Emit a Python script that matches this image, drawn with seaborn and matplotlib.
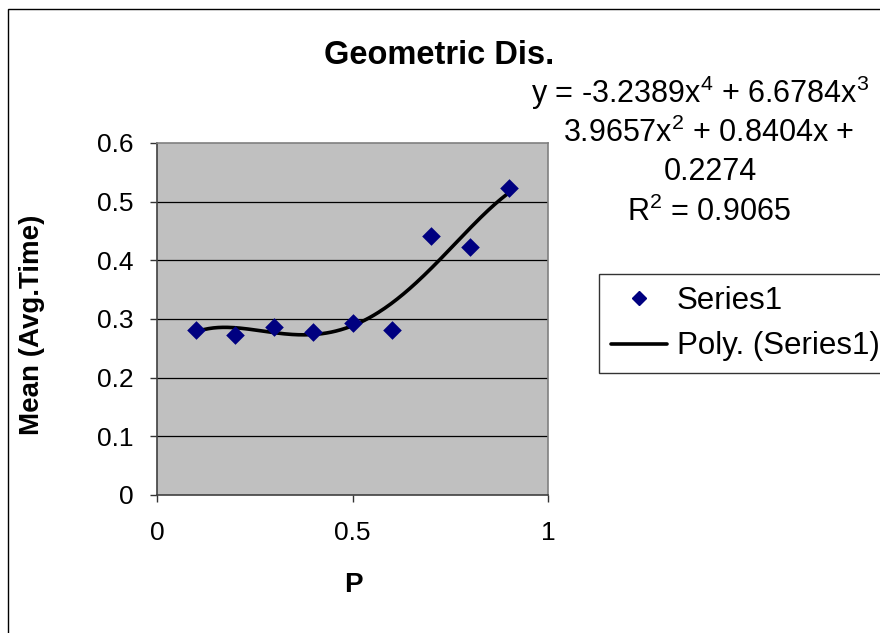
import numpy as np
import pandas as pd
import matplotlib
matplotlib.use("Agg")
import matplotlib.pyplot as plt
import matplotlib.patches as mpatches
from matplotlib.lines import Line2D
import seaborn as sns

# ---- data ----
p_values = [0.1, 0.2, 0.3, 0.4, 0.5, 0.6, 0.7, 0.8, 0.9]
mean_time = [0.282, 0.273, 0.286, 0.278, 0.294, 0.282, 0.441, 0.422, 0.524]
poly_coeffs = [-3.2389, 6.6784, -3.9657, 0.8404, 0.2274]  # highest power first
eq_lines = [r"y = -3.2389x$^{4}$ + 6.6784x$^{3}$",
            r"3.9657x$^{2}$ + 0.8404x +",
            "0.2274",
            r"R$^{2}$ = 0.9065"]
x_ticks = [0, 0.5, 1]
x_tick_labels = ["0", "0.5", "1"]
y_ticks = [0, 0.1, 0.2, 0.3, 0.4, 0.5, 0.6]
y_tick_labels = ["0", "0.1", "0.2", "0.3", "0.4", "0.5", "0.6"]
title = "Geometric Dis."
x_label = "P"
y_label = "Mean (Avg.Time)"
series_name = "Series1"
trend_name = "Poly. (Series1)"

sns.set_style("white")
plt.rcParams["font.family"] = ["Liberation Sans", "DejaVu Sans"]
plt.rcParams["mathtext.fontset"] = "custom"
plt.rcParams["mathtext.rm"] = "Liberation Sans"
plt.rcParams["mathtext.it"] = "Liberation Sans"
plt.rcParams["mathtext.default"] = "regular"
plt.rcParams["text.color"] = "black"
plt.rcParams["axes.labelcolor"] = "black"
plt.rcParams["xtick.color"] = "black"
plt.rcParams["ytick.color"] = "black"

W, H = 880, 633
fig = plt.figure(figsize=(W / 100, H / 100), dpi=100)
ax = fig.add_axes([157 / W, 1 - 495 / H, (548 - 157) / W, (495 - 143) / H])
ax.set_facecolor("#C0C0C0")

df = pd.DataFrame({"P": p_values, "Mean": mean_time})
xs = np.linspace(min(p_values), max(p_values), 200)
trend = pd.DataFrame({"P": xs, "Fit": np.polyval(poly_coeffs, xs)})

# gridlines
for yv in y_ticks[1:-1]:
    ax.axhline(yv, color="black", lw=0.9, zorder=1)

sns.lineplot(data=trend, x="P", y="Fit", ax=ax, color="black", lw=2.6,
             zorder=3, legend=False)
sns.scatterplot(data=df, x="P", y="Mean", ax=ax, marker="D", s=90,
                color="#000080", edgecolor="#000080", linewidth=0, zorder=4,
                legend=False)

ax.set_xlim(0, 1)
ax.set_ylim(0, 0.6)
ax.set_xticks(x_ticks)
ax.set_xticklabels(x_tick_labels)
ax.set_yticks(y_ticks)
ax.set_yticklabels(y_tick_labels)
ax.tick_params(axis="both", direction="out", length=5, width=1, color="#333333",
               labelsize=19, labelcolor="black")
ax.tick_params(axis="x", pad=14, bottom=True)
ax.tick_params(axis="y", pad=12, left=True)
for side, sp in ax.spines.items():
    sp.set_visible(True)
    sp.set_color("#808080")
    sp.set_linewidth(1.2)
ax.spines["left"].set_color("#404040")
ax.spines["bottom"].set_color("#404040")
ax.set_xlabel("")
ax.set_ylabel("")

# titles / labels
fig.text(439 / W, 1 - 55 / H, title, ha="center", va="center",
         fontsize=23.5, fontweight="bold", color="black")
fig.text(353 / W, 1 - 585 / H, x_label, ha="center", va="center",
         fontsize=20, fontweight="bold", color="black")
fig.text(32 / W, 1 - 325 / H, y_label, ha="center", va="center",
         fontsize=20, fontweight="bold", rotation=90, color="black")

# equation text
eq_pos = [(700, 93), (709, 133), (710, 172), (709, 212)]
for txt, (px, py) in zip(eq_lines, eq_pos):
    fig.text(px / W, 1 - py / H, txt, ha="center", va="center", fontsize=22,
             color="black")

# legend
handles = [Line2D([], [], marker="D", color="#000080", linestyle="none",
                  markersize=7),
           Line2D([], [], color="black", lw=2.6)]
leg = fig.legend(handles, [series_name, trend_name], loc="upper left",
                 bbox_to_anchor=(599 / W, 1 - 274 / H), borderaxespad=0,
                 fancybox=False, frameon=True, edgecolor="black",
                 fontsize=22.5, handlelength=1.8, handletextpad=0.3,
                 borderpad=0.38, labelspacing=0.5)
leg.get_frame().set_linewidth(1.0)
for t in leg.get_texts():
    t.set_color("black")

# outer chart border (right/bottom edges beyond the image)
fig.patches.append(mpatches.Rectangle((7.5 / W, -0.2), 2, 1 - 9 / H + 0.2,
                                      transform=fig.transFigure, fill=False,
                                      edgecolor="black", lw=1.0))

fig.savefig("out.png", dpi=100)
